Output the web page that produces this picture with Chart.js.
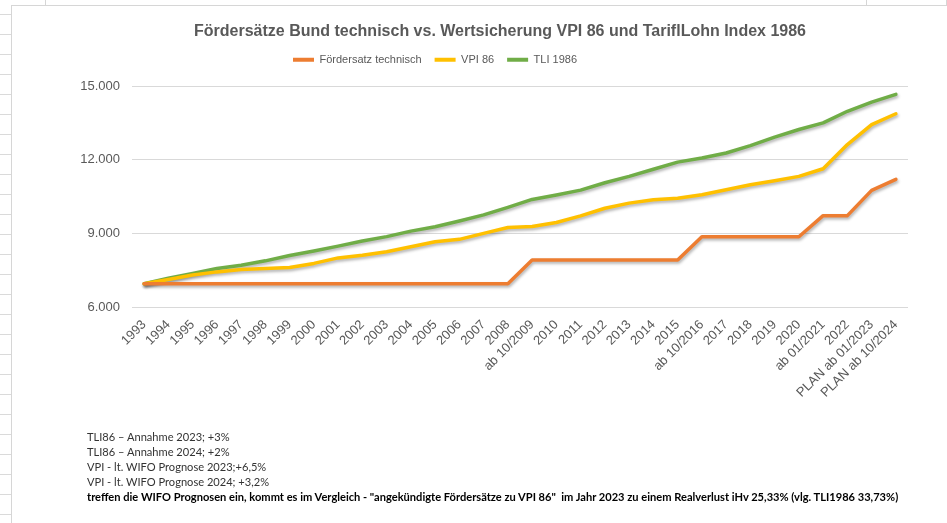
<!DOCTYPE html>
<html>
<head>
<meta charset="utf-8">
<script src="https://cdn.jsdelivr.net/npm/chart.js@4.4.0/dist/chart.umd.min.js"></script>
<style>
  html, body { margin: 0; padding: 0; background: #fff; }
  #sheet {
    position: relative; width: 947px; height: 523px; overflow: hidden;
    background:
      repeating-linear-gradient(to bottom, transparent 0, transparent 14px, #dadada 14px, #dadada 15px, transparent 15px, transparent 20px);
  }
  #box {
    position: absolute; left: 11px; top: 5px; width: 960px; height: 540px;
    background: #fff; border-left: 1px solid #d6d6d6; border-top: 1px solid #d6d6d6;
  }
  .vline { position: absolute; top: 0; width: 1px; height: 5px; background: #d6d6d6; }
  #chart { position: absolute; left: 0; top: 0; }
  #notes {
    position: absolute; left: 87px; top: 429px; white-space: nowrap;
    font-family: Lato, "Open Sans", sans-serif; font-size: 11.1px; line-height: 15px; color: #333;
  }
  #notes b { color: #000; }
</style>
</head>
<body>
<div id="sheet">
  <div class="vline" style="left:45px"></div>
  <div class="vline" style="left:866px"></div>
  <div class="vline" style="left:946px"></div>
  <div id="box"></div>
  <canvas id="chart" width="947" height="523"></canvas>
  <div id="notes">
    TLI86 – Annahme 2023; +3%<br>
    TLI86 – Annahme 2024; +2%<br>
    VPI - lt. WIFO Prognose 2023;+6,5%<br>
    VPI - lt. WIFO Prognose 2024; +3,2%<br>
    <b>treffen die WIFO Prognosen ein, kommt es im Vergleich - "angekündigte Fördersätze zu VPI 86"&nbsp; im Jahr 2023 zu einem Realverlust iHv 25,33% (vlg. TLI1986 33,73%)</b>
  </div>
</div>
<script>
const years = ['1993', '1994', '1995', '1996', '1997', '1998', '1999', '2000', '2001', '2002',
  '2003', '2004', '2005', '2006', '2007', '2008', 'ab 10/2009', '2010', '2011', '2012', '2013',
  '2014', '2015', 'ab 10/2016', '2017', '2018', '2019', '2020', 'ab 01/2021', '2022',
  'PLAN ab 01/2023', 'PLAN ab 10/2024'];

const foerdersatz = [6950, 6950, 6950, 6950, 6950, 6950, 6950, 6950, 6950, 6950,
  6950, 6950, 6950, 6950, 6950, 6950, 7910, 7910, 7910, 7910, 7910,
  7910, 7910, 8860, 8860, 8860, 8860, 8860, 9720, 9720,
  10750, 11200];

const vpi86 = [6950, 7120, 7300, 7430, 7530, 7570, 7610, 7775, 8000, 8110,
  8250, 8455, 8660, 8755, 9000, 9240, 9275, 9440, 9710, 10020, 10230,
  10365, 10430, 10570, 10775, 10980, 11140, 11320, 11630, 12615,
  13430, 13870];

const tli1986 = [6950, 7170, 7370, 7570, 7700, 7880, 8100, 8280, 8480, 8690,
  8865, 9090, 9270, 9500, 9750, 10060, 10380, 10560, 10760, 11060, 11320,
  11610, 11900, 12070, 12270, 12570, 12920, 13230, 13500, 13970,
  14340, 14660];

const yTicks = [6000, 9000, 12000, 15000];

const grey = '#595959';
const font = 'Liberation Sans, Arial';

// soft shadow under the lines like excel does
const lineShadow = {
  id: 'lineShadow',
  beforeDatasetDraw(chart) {
    const c = chart.ctx;
    c.save();
    c.shadowColor = 'rgba(0,0,0,0.30)';
    c.shadowBlur = 3;
    c.shadowOffsetX = 1;
    c.shadowOffsetY = 2;
  },
  afterDatasetDraw(chart) {
    chart.ctx.restore();
  }
};

// excel had title and legend a bit off the canvas centre
const nudge = {
  id: 'nudge',
  afterLayout(chart) {
    const t = chart.titleBlock;
    t.left += 16; t.right += 16;
    const l = chart.legend;
    const w = l.right - l.left;
    l.left = 280; l.right = 280 + w;
  }
};

const ctx = document.getElementById('chart').getContext('2d');
const chart = new Chart(ctx, {
  type: 'line',
  data: {
    labels: years,
    datasets: [
      { label: 'Fördersatz technisch', data: foerdersatz, borderColor: '#ED7D31', backgroundColor: '#ED7D31' },
      { label: 'VPI 86', data: vpi86, borderColor: '#FFC000', backgroundColor: '#FFC000' },
      { label: 'TLI 1986', data: tli1986, borderColor: '#70AD47', backgroundColor: '#70AD47' }
    ]
  },
  options: {
    responsive: false,
    animation: false,
    layout: { padding: { left: 60, right: 39, top: 0, bottom: 116 } },
    elements: {
      line: { borderWidth: 3.5, tension: 0, borderCapStyle: 'round', borderJoinStyle: 'round' },
      point: { radius: 0, hoverRadius: 0 }
    },
    scales: {
      x: {
        offset: true,
        grid: { display: false },
        border: { display: false },
        ticks: {
          color: grey,
          font: { family: font, size: 13 },
          minRotation: 45, maxRotation: 45, autoSkip: false, padding: 2
        },
        afterFit(scale) { scale.height = 100; }
      },
      y: {
        min: 6000, max: 15000,
        grid: { color: '#d9d9d9', drawTicks: false },
        border: { display: false },
        afterBuildTicks(scale) { scale.ticks = yTicks.map(v => ({ value: v })); },
        ticks: {
          color: grey,
          font: { family: font, size: 13 },
          padding: 12,
          callback: v => v.toLocaleString('de-DE')
        },
        afterFit(scale) { scale.width = 72; }
      }
    },
    plugins: {
      title: {
        display: true,
        text: 'Fördersätze Bund technisch vs. Wertsicherung VPI 86 und TariflLohn Index 1986',
        color: grey,
        font: { family: font, size: 16, weight: 'bold' },
        padding: { top: 22, bottom: 0 }
      },
      // empty spacer between legend and plot
      subtitle: {
        display: true,
        text: '',
        weight: 500,
        font: { size: 1 },
        padding: { top: 9.6, bottom: 0 }
      },
      legend: {
        align: 'start',
        labels: {
          color: grey,
          font: { family: font, size: 11 },
          boxWidth: 21, boxHeight: 4, padding: 13,
          generateLabels(ch) {
            const items = Chart.defaults.plugins.legend.labels.generateLabels(ch);
            items.forEach(it => { it.lineWidth = 0; it.fillStyle = it.strokeStyle; });
            return items;
          }
        }
      },
      tooltip: { enabled: false }
    }
  },
  plugins: [lineShadow, nudge]
});
</script>
</body>
</html>
